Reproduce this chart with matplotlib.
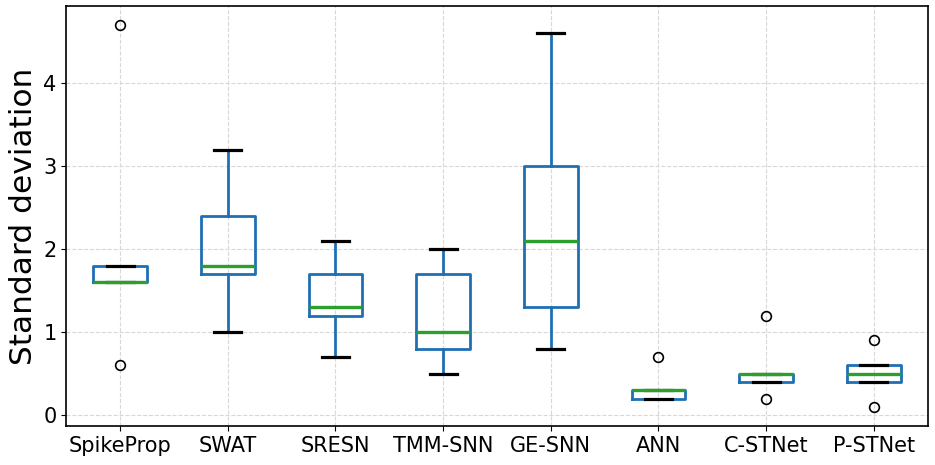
import matplotlib.pyplot as plt

models = ['SpikeProp', 'SWAT', 'SRESN', 'TMM-SNN', 'GE-SNN', 'ANN', 'C-STNet', 'P-STNet']
q1 = [1.6, 1.7, 1.2, 0.8, 1.3, 0.2, 0.4, 0.4]
med = [1.6, 1.8, 1.3, 1.0, 2.1, 0.3, 0.5, 0.5]
q3 = [1.8, 2.4, 1.7, 1.7, 3.0, 0.3, 0.5, 0.6]
whislo = [1.6, 1.0, 0.7, 0.5, 0.8, 0.2, 0.4, 0.4]
whishi = [1.8, 3.2, 2.1, 2.0, 4.6, 0.3, 0.5, 0.6]
fliers = [[4.7, 0.6], [], [], [], [], [0.7], [1.2, 0.2], [0.9, 0.1]]

stats = []
for i, name in enumerate(models):
    stats.append({'label': name, 'q1': q1[i], 'med': med[i], 'q3': q3[i],
                  'whislo': whislo[i], 'whishi': whishi[i], 'fliers': fliers[i]})

fig, ax = plt.subplots(figsize=(9.35, 4.65), dpi=100)
ax.bxp(stats, widths=0.5,
       boxprops=dict(color='#1f6fb4', linewidth=2),
       whiskerprops=dict(color='#1f6fb4', linewidth=2),
       capprops=dict(color='black', linewidth=2.3, zorder=2.5),
       medianprops=dict(color='#2ca02c', linewidth=2.4, zorder=3),
       flierprops=dict(marker='o', markerfacecolor='none', markeredgecolor='black',
                       markersize=7, markeredgewidth=1.2))

ax.grid(True, linestyle='--', color='#d8d8d8', linewidth=0.8)
ax.set_axisbelow(True)
ax.set_ylabel('Standard deviation', fontsize=22.5, labelpad=4)
ax.tick_params(axis='both', labelsize=15)
ax.set_yticks([0, 1, 2, 3, 4])
for s in ax.spines.values():
    s.set_linewidth(1.2)

plt.subplots_adjust(left=0.071, right=0.992, top=0.987, bottom=0.084)
plt.savefig('out.png', dpi=100)
